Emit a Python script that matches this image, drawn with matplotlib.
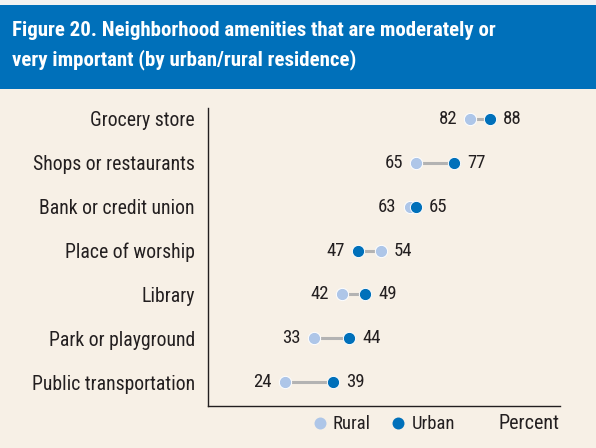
import matplotlib
matplotlib.use("Agg")
import matplotlib.pyplot as plt
from matplotlib.patches import Rectangle
from matplotlib.lines import Line2D

categories = ["Grocery store", "Shops or restaurants", "Bank or credit union",
              "Place of worship", "Library", "Park or playground",
              "Public transportation"]
rural = [82, 65, 63, 54, 42, 33, 24]
urban = [88, 77, 65, 47, 49, 44, 39]
legend_labels = ["Rural", "Urban"]
title_lines = ["Figure 20. Neighborhood amenities that are moderately or",
               "very important (by urban/rural residence)"]

plt.rcParams["font.family"] = ["Roboto Condensed", "DejaVu Sans"]

BG = "#F7F0E6"
BLUE = "#0070BA"
LIGHT = "#AEC6E8"
GREY = "#B3B3B3"
TXT = "#231F20"
W, H = 596, 448

def fx(px):
    return px / W

def fy(py):
    return 1 - py / H

fig = plt.figure(figsize=(5.96, 4.48), dpi=100, facecolor=BG)
fig.patches.append(Rectangle((0, fy(5)), 1, 5 / H, transform=fig.transFigure,
                             facecolor="#F2F2F2", edgecolor="none", zorder=0))
fig.patches.append(Rectangle((0, fy(89)), 1, 84 / H, transform=fig.transFigure,
                             facecolor=BLUE, edgecolor="none", zorder=0))
fig.text(fx(12), fy(36), title_lines[0], color="white", fontsize=15,
         fontweight="bold", va="baseline", ha="left")
fig.text(fx(12), fy(65), title_lines[1], color="white", fontsize=15,
         fontweight="bold", va="baseline", ha="left")

ax = fig.add_axes([fx(208), fy(406), 352 / W, 298 / H])
ax.set_facecolor(BG)
ypos = list(range(len(categories)))
for y, r, u in zip(ypos, rural, urban):
    ax.plot([r, u], [y, y], color=GREY, lw=2.2, zorder=1, solid_capstyle="butt")
ax.scatter(rural, ypos, s=78, color=LIGHT, edgecolor="white", linewidth=0.7, zorder=2)
ax.scatter(urban, ypos, s=78, color=BLUE, edgecolor="white", linewidth=0.7, zorder=3)
for y, r, u in zip(ypos, rural, urban):
    lo, hi = min(r, u), max(r, u)
    ax.annotate(str(lo), (lo, y), xytext=(-9.5, 0), textcoords="offset points",
                ha="right", va="center", fontsize=13.5, color=TXT)
    ax.annotate(str(hi), (hi, y), xytext=(9.5, 0), textcoords="offset points",
                ha="left", va="center", fontsize=13.5, color=TXT)

ax.set_xlim(0, 110)
ax.set_ylim(len(categories) - 1 + 0.545, -0.25)
ax.set_yticks(ypos)
ax.set_yticklabels(categories, fontsize=14.2, color=TXT)
ax.tick_params(axis="y", length=0, pad=9.5)
ax.set_xticks([])
for s in ["top", "right"]:
    ax.spines[s].set_visible(False)
for s in ["left", "bottom"]:
    ax.spines[s].set_color(TXT)
    ax.spines[s].set_linewidth(1.0)

# legend
for (mx, tx), lab, col in zip([(320, 333), (398, 412)], legend_labels, [LIGHT, BLUE]):
    fig.add_artist(Line2D([fx(mx)], [fy(423)], marker="o", ls="none", markersize=8.6,
                          color=col, markeredgecolor="none", transform=fig.transFigure))
    fig.text(fx(tx), fy(429), lab, ha="left", va="baseline", fontsize=13.5, color=TXT)
fig.text(fx(560), fy(429), "Percent", ha="right", va="baseline", fontsize=14.5, color=TXT)

fig.savefig("out.png", dpi=100, facecolor=BG)
